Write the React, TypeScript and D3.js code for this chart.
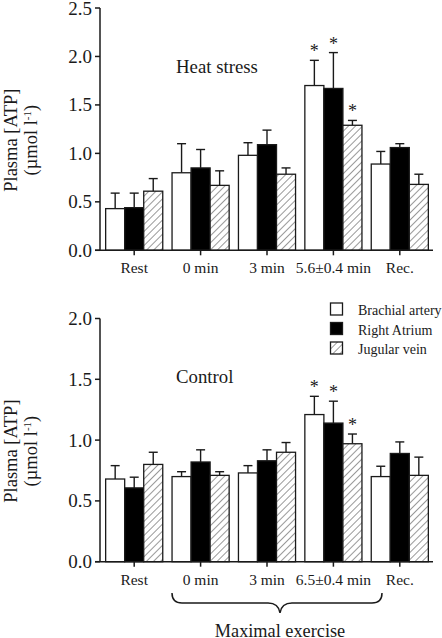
import React from "react";
import * as d3 from "d3";

const categoriesHeat = ["Rest", "0 min", "3 min", "5.6±0.4 min", "Rec."];
const categoriesControl = ["Rest", "0 min", "3 min", "6.5±0.4 min", "Rec."];
const seriesNames = ["Brachial artery", "Right Atrium", "Jugular vein"];

// Heat stress: mean and mean+SE (upper error) per series
const heatBrachial = [0.43, 0.8, 0.98, 1.7, 0.89];
const heatBrachialErr = [0.59, 1.1, 1.11, 1.96, 1.02];
const heatAtrium = [0.44, 0.85, 1.09, 1.67, 1.06];
const heatAtriumErr = [0.59, 1.04, 1.24, 2.04, 1.1];
const heatJugular = [0.61, 0.67, 0.785, 1.29, 0.68];
const heatJugularErr = [0.74, 0.82, 0.85, 1.34, 0.785];
const heatStars = [false, false, false, true, false];

// Control
const ctrlBrachial = [0.68, 0.7, 0.73, 1.21, 0.7];
const ctrlBrachialErr = [0.79, 0.74, 0.79, 1.36, 0.785];
const ctrlAtrium = [0.607, 0.82, 0.83, 1.14, 0.89];
const ctrlAtriumErr = [0.695, 0.92, 0.92, 1.32, 0.985];
const ctrlJugular = [0.8, 0.71, 0.9, 0.97, 0.71];
const ctrlJugularErr = [0.9, 0.74, 0.98, 1.05, 0.86];
const ctrlStars = [false, false, false, true, false];

const heatTicks = [0, 0.5, 1.0, 1.5, 2.0, 2.5];
const ctrlTicks = [0, 0.5, 1.0, 1.5, 2.0];

const FONT = "'Liberation Serif', 'Times New Roman', serif";
const INK = "#1a1a1a";

type PanelProps = {
  categories: string[];
  values: number[][];
  errs: number[][];
  stars: boolean[];
  ticks: number[];
  yMax: number;
  yTop: number;
  yBottom: number;
  title: string;
  titleY: number;
};

const fills = ["#ffffff", "#000000", "url(#hatch)"];

function Panel(p: PanelProps) {
  const x = d3.scaleBand<string>().domain(p.categories).range([101, 433]).paddingInner(0.14).paddingOuter(0.07);
  const xi = d3.scaleBand<string>().domain(seriesNames).range([0, x.bandwidth()]).padding(0);
  const y = d3.scaleLinear().domain([0, p.yMax]).range([p.yBottom, p.yTop]);
  const axisX = 100;
  return (
    <g>
      {/* bars */}
      {p.categories.map((c, ci) => (
        <g key={c}>
          {seriesNames.map((s, si) => {
            const v = p.values[si][ci];
            const e = p.errs[si][ci];
            const bx = (x(c) as number) + (xi(s) as number);
            const bw = xi.bandwidth();
            const cx = bx + bw / 2;
            return (
              <g key={s}>
                <line x1={cx} x2={cx} y1={y(v)} y2={y(e)} stroke={INK} strokeWidth={1.4} />
                <line x1={cx - 4.5} x2={cx + 4.5} y1={y(e)} y2={y(e)} stroke={INK} strokeWidth={1.4} />
                <rect x={bx} y={y(v)} width={bw} height={y(0) - y(v)} fill={fills[si]} stroke={INK} strokeWidth={1.3} />
                {p.stars[ci] && (
                  <text x={cx} y={y(e) - 3} textAnchor="middle" fontFamily={FONT} fontSize={18} fill={INK}>*</text>
                )}
              </g>
            );
          })}
        </g>
      ))}
      {/* y axis */}
      <line x1={axisX} x2={axisX} y1={y(p.yMax)} y2={y(0)} stroke={INK} strokeWidth={1.5} />
      {p.ticks.map((t) => (
        <g key={t}>
          <line x1={axisX - 5} x2={axisX} y1={y(t)} y2={y(t)} stroke={INK} strokeWidth={1.5} />
          <text x={axisX - 8} y={y(t) + 6.5} textAnchor="end" fontFamily={FONT} fontSize={19} fill={INK}>
            {d3.format(".1f")(t)}
          </text>
        </g>
      ))}
      {/* x axis */}
      <line x1={95} x2={433} y1={y(0)} y2={y(0)} stroke={INK} strokeWidth={1.5} />
      {p.categories.map((c) => {
        const cx = (x(c) as number) + x.bandwidth() / 2;
        return (
          <g key={c}>
            <line x1={cx} x2={cx} y1={y(0)} y2={y(0) + 5} stroke={INK} strokeWidth={1.5} />
            <text x={cx} y={y(0) + 23} textAnchor="middle" fontFamily={FONT} fontSize={15.5} fill={INK}>{c}</text>
          </g>
        );
      })}
      {/* title */}
      <text x={176} y={p.titleY} fontFamily={FONT} fontSize={18.8} fill={INK}>{p.title}</text>
      {/* y label */}
      <g transform={`translate(17, ${(p.yTop + p.yBottom) / 2 + 11}) rotate(-90)`}>
        <text x={0} y={0} textAnchor="middle" fontFamily={FONT} fontSize={18.5} fill={INK}>Plasma [ATP]</text>
        <text x={0} y={20} textAnchor="middle" fontFamily={FONT} fontSize={18.5} fill={INK}>
          (µmol l<tspan dy={-6} fontSize={11}>-1</tspan><tspan dy={6}>)</tspan>
        </text>
      </g>
    </g>
  );
}

export default function App() {
  const legendY = [303, 322.5, 342];
  return (
    <svg width={442} height={638} style={{ position: "absolute", left: 0, top: 0, background: "#fff" }}>
      <defs>
        <pattern id="hatch" patternUnits="userSpaceOnUse" width={5} height={5} patternTransform="rotate(45)">
          <rect width={5} height={5} fill="#fff" />
          <line x1={0} y1={0} x2={0} y2={5} stroke="#444" strokeWidth={1.1} />
        </pattern>
      </defs>
      <rect width={442} height={638} fill="#fff" />
      <Panel
        categories={categoriesHeat}
        values={[heatBrachial, heatAtrium, heatJugular]}
        errs={[heatBrachialErr, heatAtriumErr, heatJugularErr]}
        stars={heatStars}
        ticks={heatTicks}
        yMax={2.5}
        yTop={8}
        yBottom={250.3}
        title="Heat stress"
        titleY={73}
      />
      <Panel
        categories={categoriesControl}
        values={[ctrlBrachial, ctrlAtrium, ctrlJugular]}
        errs={[ctrlBrachialErr, ctrlAtriumErr, ctrlJugularErr]}
        stars={ctrlStars}
        ticks={ctrlTicks}
        yMax={2.0}
        yTop={318.5}
        yBottom={561.7}
        title="Control"
        titleY={383}
      />
      {/* legend */}
      {seriesNames.map((s, i) => (
        <g key={s}>
          <rect x={330.5} y={legendY[i]} width={12} height={12} fill={fills[i]} stroke={INK} strokeWidth={1.3} />
          <text x={358} y={legendY[i] + 12} fontFamily={FONT} fontSize={14} fill={INK}>{s}</text>
        </g>
      ))}
      {/* brace */}
      <path
        d="M172,593 C172,600 175,603 182,603 L268,603 C275,603 279,606 280,613 C281,606 285,603 292,603 L372,603 C379,603 382,600 382,593"
        fill="none"
        stroke={INK}
        strokeWidth={1.5}
      />
      <text x={280} y={637} textAnchor="middle" fontFamily={FONT} fontSize={18.3} fill={INK}>Maximal exercise</text>
    </svg>
  );
}
